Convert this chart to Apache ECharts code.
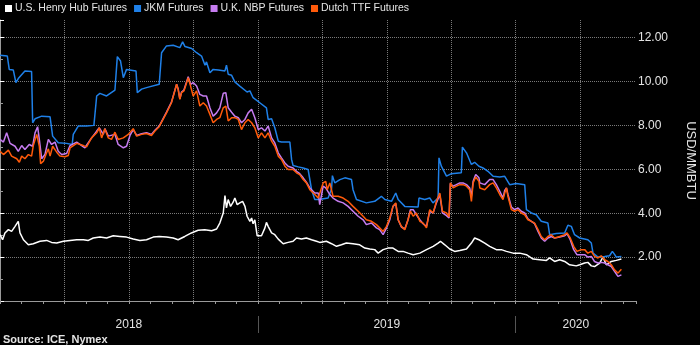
<!DOCTYPE html>
<html><head><meta charset="utf-8">
<script src="https://cdn.jsdelivr.net/npm/echarts@6/dist/echarts.min.js"></script>
<style>html,body{margin:0;padding:0;background:#000}#c{width:700px;height:345px}</style>
</head><body><div id="c"></div>
<script>
// time in months since 1 Jan 2018
const xMin = 0, xMax = 29.6;
const yearLabels = ['2018', '2019', '2020'];
const yMin = 0, yMax = 12.8, yStep = 2;
const seriesNames = ['U.S. Henry Hub Futures', 'JKM Futures', 'U.K. NBP Futures', 'Dutch TTF Futures'];
const seriesColors = ['#ffffff', '#1f80e8', '#c67cf0', '#ff5a0a'];

const hhT = [0,0.12,0.23,0.39,0.54,0.70,0.85,0.93,1.09,1.32,1.55,1.86,2.17,2.40,2.64,2.95,3.26,3.57,3.88,4.11,4.34,4.65,4.96,5.27,5.58,5.89,6.20,6.51,6.82,7.13,7.41,
 7.75,8.06,8.29,8.60,8.91,9.22,9.53,9.85,10.08,10.23,10.39,10.47,10.54,10.62,10.73,10.85,10.93,11.04,11.16,11.29,11.40,11.50,11.63,11.71,11.78,11.86,11.97,12.17,12.33,12.40,12.48,12.64,12.79,12.95,13.18,13.41,13.64,13.80,14.03,14.26,14.50,14.73,
 14.88,15.19,15.43,15.66,15.89,16.12,16.43,16.74,16.98,17.21,17.44,17.60,17.83,18.06,18.29,18.53,18.76,18.99,19.23,19.54,19.85,20.16,20.39,20.50,20.70,20.93,21.16,21.40,21.71,21.94,22.09,22.29,
 22.56,22.79,23.10,23.33,23.57,23.88,24.19,24.50,24.81,25.12,25.43,25.58,25.81,26.05,26.28,26.51,26.82,26.98,27.21,27.36,27.52,27.67,27.91,28.06,28.22,28.45,28.68,28.92];
const hhV = [3.02,2.79,3.10,3.25,3.17,3.40,3.63,3.10,2.79,2.56,2.61,2.72,2.76,2.67,2.64,2.72,2.76,2.79,2.79,2.76,2.87,2.91,2.87,2.97,2.94,2.91,2.82,2.76,2.79,2.91,2.94,
 2.91,2.87,2.79,2.94,3.10,3.22,3.25,3.20,3.28,3.55,4.01,4.80,4.24,4.62,4.31,4.50,4.69,4.39,4.47,4.54,4.31,3.86,3.63,3.78,3.52,3.70,2.97,2.97,3.33,3.58,3.40,3.10,3.02,2.82,2.61,2.67,2.72,2.87,2.82,2.87,2.79,2.72,
 2.67,2.72,2.61,2.49,2.56,2.64,2.61,2.56,2.41,2.37,2.34,2.18,2.34,2.41,2.41,2.26,2.26,2.18,2.11,2.18,2.34,2.49,2.64,2.72,2.56,2.37,2.26,2.30,2.37,2.64,2.87,2.79,
 2.64,2.49,2.34,2.34,2.26,2.18,2.18,2.11,1.91,1.88,1.85,1.96,1.80,1.88,1.80,1.65,1.60,1.65,1.73,1.76,1.60,1.57,1.73,2.00,1.65,1.80,1.85,1.91];

const jkmT = [0,0.34,0.43,0.62,0.74,0.85,1.16,1.47,1.52,1.63,1.94,2.33,2.45,2.71,3.10,3.36,3.41,3.64,4.03,4.37,4.50,4.65,4.96,5.35,5.46,5.61,5.74,5.89,6.33,6.39,6.59,6.82,7.41,
 7.44,7.52,7.75,8.06,8.37,8.50,8.61,8.92,9.15,9.38,9.54,9.61,9.77,9.92,10.16,10.47,10.54,10.62,10.78,10.93,11.16,11.50,11.63,11.78,12.09,12.40,12.48,12.64,12.79,12.95,13.10,13.49,13.57,13.64,13.88,14.11,14.34,14.50,14.65,14.85,
 15.27,15.43,15.47,15.58,15.82,16.05,16.36,16.43,16.59,17.05,17.44,17.75,17.91,18.22,18.42,18.53,18.84,19.46,19.50,19.77,20.00,20.15,20.39,20.43,20.54,20.78,21.01,21.47,21.52,21.71,21.94,22.09,22.29,
 22.48,22.71,22.95,23.26,23.49,23.72,24.03,24.42,24.50,24.73,24.96,25.04,25.19,25.50,25.58,25.89,26.28,26.43,26.59,26.74,26.98,27.36,27.52,27.60,27.83,28.14,28.37,28.50,28.61,28.68,28.92];
const jkmV = [11.19,11.16,10.55,10.52,9.95,10.13,10.48,10.45,8.12,8.30,8.42,8.39,7.51,7.21,7.18,7.13,7.59,7.97,7.97,8.00,9.34,9.46,9.34,9.61,11.13,10.93,10.17,10.55,10.48,9.49,9.65,9.72,9.87,
 9.95,11.31,11.62,11.65,11.54,11.80,11.59,11.50,11.31,11.16,10.74,10.89,10.40,10.55,10.52,10.48,10.74,10.33,10.28,9.98,9.79,9.52,9.57,9.26,9.03,8.80,8.27,8.30,7.89,7.28,7.24,7.24,6.45,6.17,6.11,6.06,5.99,5.07,4.62,4.62,
 4.69,5.10,5.71,5.38,5.53,5.61,5.53,5.07,4.62,4.47,4.54,4.77,4.62,4.54,4.92,4.62,4.31,4.28,4.69,4.62,4.69,4.47,4.69,6.52,6.14,5.69,5.80,5.84,7.01,6.75,6.22,6.32,6.14,
 6.06,5.91,5.68,5.65,5.68,5.30,5.35,5.30,4.16,4.01,3.93,4.01,3.63,3.55,3.02,3.07,3.10,3.45,3.40,3.02,2.87,2.79,2.64,2.18,2.00,2.03,2.06,2.26,2.11,2.00,2.03];

const nbpT = [0,0.16,0.31,0.47,0.70,0.85,1.01,1.16,1.36,1.52,1.63,1.75,1.83,1.94,2.09,2.25,2.40,2.56,2.71,2.87,3.10,3.26,3.57,3.95,4.19,4.50,4.62,4.81,4.88,5.04,5.35,5.50,5.74,5.89,6.05,6.20,6.36,6.59,6.82,7.05,7.21,7.41,
 7.75,7.98,8.22,8.29,8.37,8.45,8.56,8.76,8.87,8.99,9.15,9.30,9.46,9.61,9.77,9.92,10.08,10.23,10.39,10.51,10.62,10.78,10.93,11.09,11.24,11.40,11.55,11.71,11.86,12.02,12.17,12.33,12.48,12.64,12.79,12.95,13.10,13.26,13.41,13.64,13.80,13.95,14.11,14.26,14.42,14.65,14.81,
 14.88,15.04,15.16,15.35,15.50,15.74,15.97,16.20,16.43,16.67,16.90,17.05,17.29,17.52,17.67,17.83,17.99,18.14,18.29,18.42,18.53,18.68,18.84,18.99,19.10,19.23,19.38,19.54,19.69,19.85,20.00,20.16,20.31,20.47,20.59,20.78,20.90,20.96,21.09,21.24,21.40,21.55,21.71,21.86,21.94,22.02,22.14,22.29,
 22.33,22.56,22.79,22.95,23.10,23.26,23.41,23.49,23.57,23.64,23.80,23.95,24.11,24.26,24.42,24.57,24.73,24.88,25.04,25.19,25.35,25.50,25.66,25.81,26.05,26.28,26.39,26.54,26.70,26.85,27.05,27.21,27.36,27.52,27.67,27.83,27.98,28.14,28.29,28.45,28.60,28.76,28.92];
const nbpV = [7.36,7.24,7.66,7.18,7.05,6.82,7.08,6.90,7.13,7.05,7.66,7.94,7.36,6.48,6.67,7.36,7.13,7.24,6.82,6.67,6.72,7.08,7.24,6.98,7.33,7.74,7.89,7.59,7.85,7.51,7.59,7.13,6.98,7.05,7.54,7.81,7.54,7.62,7.66,7.59,7.78,7.97,
 8.60,9.06,9.87,9.67,9.21,9.52,9.61,10.22,9.87,9.95,9.79,9.41,9.34,9.34,8.80,8.42,8.57,8.80,9.46,9.49,8.80,8.60,8.42,8.35,8.12,8.27,8.57,8.73,8.35,7.81,7.89,7.74,7.97,7.43,7.20,6.75,6.52,6.29,6.14,6.06,5.91,5.80,5.61,5.41,5.15,4.92,4.92,
 4.39,5.23,5.15,4.85,4.69,4.54,4.47,4.31,4.09,3.86,3.70,3.48,3.55,3.33,3.25,3.02,3.33,3.70,4.31,4.44,3.70,3.37,3.28,3.70,4.16,4.16,3.93,3.70,3.52,3.40,4.09,4.01,4.47,4.85,4.01,3.89,3.78,5.35,5.23,5.30,5.38,5.38,5.30,5.15,4.77,5.45,5.76,5.61,
 5.38,5.30,5.53,5.53,5.30,5.00,4.69,5.04,5.15,4.85,4.28,4.16,4.24,4.09,4.01,3.74,3.63,3.52,3.17,2.87,2.72,2.87,2.94,2.87,2.91,2.97,3.07,2.79,2.34,2.11,2.11,2.11,2.00,2.03,1.80,1.73,1.76,1.73,1.65,1.57,1.35,1.12,1.19];

const ttfT = [0,0.16,0.39,0.54,0.78,0.90,1.01,1.16,1.32,1.47,1.55,1.71,1.83,1.89,2.02,2.17,2.25,2.33,2.45,2.64,2.79,3.02,3.18,3.26,3.57,3.88,4.03,4.26,4.50,4.62,4.73,4.88,5.04,5.19,5.35,5.50,5.74,5.97,6.20,6.36,6.59,6.82,7.05,7.21,7.41,
 7.75,7.98,8.22,8.29,8.37,8.45,8.56,8.76,8.87,8.99,9.15,9.30,9.46,9.61,9.77,9.92,10.08,10.23,10.39,10.51,10.62,10.78,10.93,11.09,11.24,11.40,11.55,11.71,11.86,12.02,12.17,12.33,12.48,12.64,12.79,12.95,13.10,13.26,13.41,13.64,13.80,13.95,14.11,14.26,14.42,14.65,14.81,
 14.88,15.04,15.16,15.23,15.35,15.50,15.74,15.97,16.20,16.43,16.67,16.90,17.05,17.29,17.52,17.67,17.83,17.99,18.14,18.29,18.42,18.53,18.68,18.84,18.99,19.10,19.23,19.38,19.54,19.69,19.85,20.00,20.16,20.31,20.47,20.59,20.78,20.90,20.96,21.09,21.24,21.40,21.55,21.71,21.86,21.94,22.02,22.14,22.29,
 22.33,22.56,22.79,22.95,23.10,23.26,23.41,23.49,23.57,23.64,23.80,23.95,24.11,24.26,24.42,24.57,24.73,24.88,25.04,25.19,25.35,25.50,25.66,25.81,26.05,26.28,26.39,26.54,26.70,26.85,27.05,27.21,27.36,27.52,27.67,27.83,27.98,28.14,28.29,28.45,28.60,28.76,28.84,28.92];
const ttfV = [6.82,6.67,6.87,6.60,6.48,6.32,6.60,6.48,6.67,6.60,7.08,7.59,7.05,6.26,6.37,6.75,6.93,6.60,7.05,6.78,6.60,6.57,6.63,6.98,7.18,7.08,7.02,7.43,7.66,7.89,7.43,7.85,7.43,7.36,7.69,7.36,7.43,7.59,7.85,7.51,7.59,7.63,7.54,7.74,7.94,
 8.57,9.03,9.87,9.64,9.19,9.49,9.57,10.17,9.79,9.34,9.57,8.88,9.03,8.88,8.50,8.12,8.27,8.35,8.80,8.88,8.20,8.35,8.35,8.27,7.81,8.12,8.27,8.12,7.89,7.43,7.66,7.43,7.66,7.28,7.05,6.60,6.45,6.14,5.99,5.99,5.84,5.76,5.53,5.38,5.07,4.85,4.69,
 4.62,5.38,5.45,5.07,5.38,4.77,4.77,4.69,4.54,4.31,4.09,3.86,3.70,3.63,3.48,3.33,3.17,3.40,3.78,4.31,4.47,3.70,3.40,3.25,3.70,4.09,3.86,4.01,3.63,3.55,3.33,4.16,4.01,4.54,4.92,4.09,4.01,3.83,5.38,5.15,5.23,5.30,5.30,5.23,5.07,4.54,5.38,5.65,5.45,
 5.15,5.07,5.30,5.38,5.15,4.85,4.62,4.92,5.15,4.77,4.16,4.09,4.16,4.01,3.93,3.70,3.63,3.55,3.25,2.94,2.79,2.94,3.02,2.87,2.94,3.02,3.10,2.87,2.49,2.26,2.34,2.34,2.18,2.26,2.03,1.96,2.06,1.88,1.80,1.65,1.42,1.27,1.24,1.45];

function pairs(t, v) { const n = Math.min(t.length, v.length); const out = []; for (let i = 0; i < n; i++) out.push([t[i], v[i]]); return out; }
const seriesData = [pairs(hhT, hhV), pairs(jkmT, jkmV), pairs(nbpT, nbpV), pairs(ttfT, ttfV)];

const yearStarts = yearLabels.map((_, i) => i * 12);
const yearCenters = yearStarts.map(s => (s + Math.min(s + 12, xMax)) / 2);
const yearBounds = yearStarts.slice(1);

const FONT = '"Liberation Sans", Arial, sans-serif';
const gridColor = '#7a7a7a';
const axisColor = '#9a9a9a';
const textColor = '#e4e4e4';
const dotted = { color: gridColor, type: 'dotted', width: 1 };

const chart = echarts.init(document.getElementById('c'), null, { renderer: 'canvas' });
chart.setOption({
  backgroundColor: '#000000',
  animation: false,
  textStyle: { fontFamily: FONT },
  title: {
    text: 'Source: ICE, Nymex', left: 3, bottom: 0, padding: 0,
    textStyle: { color: textColor, fontSize: 11, fontWeight: 'bold', fontFamily: FONT }
  },
  legend: {
    left: 5, top: 3, padding: 0, itemGap: 7, itemWidth: 7, itemHeight: 7, icon: 'rect',
    textStyle: { color: textColor, fontSize: 10.5, fontFamily: FONT, padding: [0, 0, 0, -2] },
    data: seriesNames.map((n, i) => ({ name: n, itemStyle: { color: seriesColors[i] } }))
  },
  grid: { left: 0, right: 64, top: 20, bottom: 44, containLabel: false, outerBoundsMode: 'none' },
  xAxis: [
    { type: 'value', min: xMin, max: xMax, interval: 3, position: 'bottom',
      axisLine: { show: true, lineStyle: { color: axisColor, width: 1 } },
      axisTick: { show: false },
      axisLabel: { show: false },
      splitLine: { show: true, showMinLine: false, showMaxLine: false, lineStyle: dotted } },
    { type: 'value', min: xMin, max: xMax, interval: 1, position: 'bottom',
      axisLine: { show: false },
      axisTick: { show: true, length: 3, lineStyle: { color: axisColor } },
      axisLabel: { show: false }, splitLine: { show: false } },
    { type: 'value', min: xMin, max: xMax, position: 'bottom', offset: 15,
      axisLine: { show: false },
      axisTick: { show: true, customValues: yearBounds, length: 17, lineStyle: { color: '#555' } },
      axisLabel: { show: true, customValues: yearCenters, color: textColor, fontSize: 12, margin: 3,
        formatter: v => yearLabels[Math.floor(v / 12)] },
      splitLine: { show: false } }
  ],
  yAxis: {
    type: 'value', position: 'right', min: yMin, max: yMax, interval: yStep,
    axisLine: { show: true, lineStyle: { color: axisColor } },
    axisTick: { show: true, length: 4, lineStyle: { color: '#ffffff' } },
    minorTick: { show: true, splitNumber: 2, length: 3, lineStyle: { color: axisColor } },
    axisLabel: { color: textColor, fontSize: 12, margin: 2, showMinLabel: false, showMaxLabel: false,
      formatter: v => v.toFixed(2) },
    splitLine: { show: true, showMinLine: false, showMaxLine: false, lineStyle: dotted },
    name: 'USD/MMBTU', nameLocation: 'middle', nameRotate: -90, nameGap: 48,
    nameTextStyle: { color: textColor, fontSize: 13, fontFamily: FONT }
  },
  series: seriesNames.map((n, i) => ({
    name: n, type: 'line', data: seriesData[i], showSymbol: false, symbol: 'none',
    lineStyle: { color: seriesColors[i], width: 1.5 }, itemStyle: { color: seriesColors[i] },
    xAxisIndex: 0, yAxisIndex: 0, z: 2 + i
  }))
});
</script></body></html>
